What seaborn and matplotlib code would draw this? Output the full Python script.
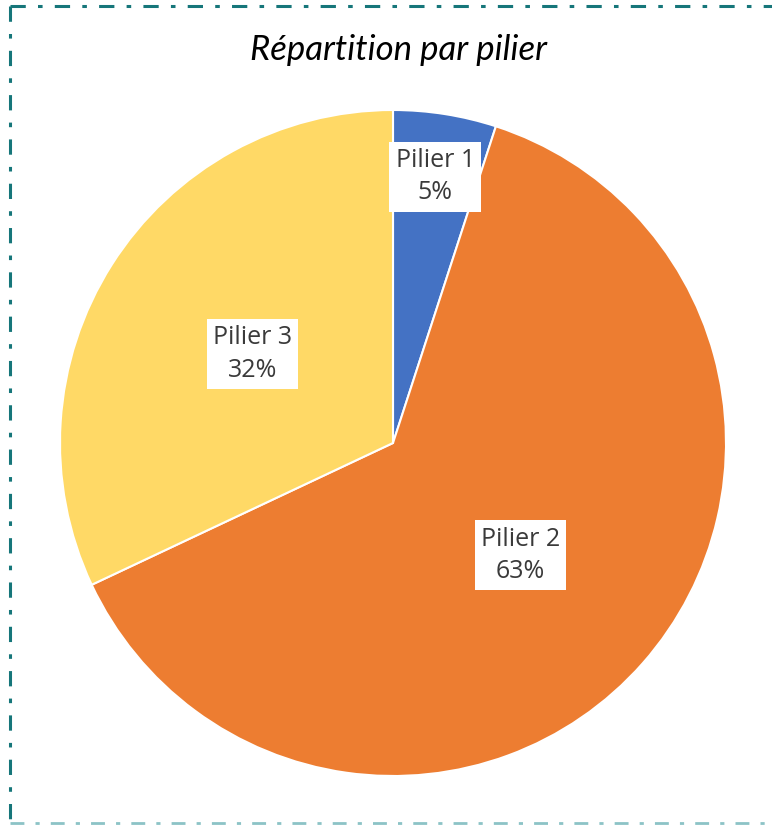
import numpy as np
import matplotlib
matplotlib.use("Agg")
import matplotlib.pyplot as plt
from matplotlib.lines import Line2D
import seaborn as sns

# ========================
# DATA
# ========================
labels = ["Pilier 1", "Pilier 2", "Pilier 3"]
shares = [5, 63, 32]
colors = ["#4472C4", "#ED7D31", "#FFD966"]
label_dist = [0.81, 0.51, 0.50]
title = "Répartition par pilier"

# ========================
# STYLE
# ========================
sns.set_theme(style="white")
plt.rcParams["font.family"] = ["Open Sans", "DejaVu Sans"]

fig = plt.figure(figsize=(7.72, 8.25), dpi=100)
fig.patch.set_facecolor("white")

# pie area: square of 666 px, centered at (393, 443) px
ax = fig.add_axes([60 / 772, 49 / 825, 666 / 772, 666 / 825])
wedges, _ = ax.pie(shares, colors=colors, startangle=90, counterclock=False,
                   radius=1, wedgeprops=dict(edgecolor="white", linewidth=1.5))
ax.set_xlim(-1, 1)
ax.set_ylim(-1, 1)
ax.set_aspect("equal")
ax.axis("off")

# data labels in white boxes
for w, lab, val, d in zip(wedges, labels, shares, label_dist):
    ang = np.deg2rad((w.theta1 + w.theta2) / 2)
    ax.text(d * np.cos(ang), d * np.sin(ang), f"{lab}\n{val}%",
            ha="center", va="center", fontsize=18, color="#3A3A3A",
            linespacing=1.4,
            bbox=dict(boxstyle="square,pad=0.25", facecolor="white", edgecolor="none"))

fig.text(399 / 772, 1 - 50 / 825, title, ha="center", va="center",
         fontsize=25, style="italic", color="black",
         family=["Lato", "DejaVu Sans"])

# dash-dot frame (no right edge visible)
frame = dict(color="#16767A", linewidth=2.2, linestyle=(0, (5, 4, 1.5, 4)))
fig.add_artist(Line2D([10 / 772, 1.0], [1 - 6 / 825, 1 - 6 / 825], **frame))
fig.add_artist(Line2D([10 / 772, 10 / 772], [1 - 6 / 825, 2 / 825], **frame))
fig.add_artist(Line2D([10 / 772, 1.0], [2 / 825, 2 / 825],
                      color="#8CC3C6", linewidth=2.0, linestyle=(0, (5, 4, 1.5, 4))))

fig.savefig("out.png", dpi=100, facecolor="white")
